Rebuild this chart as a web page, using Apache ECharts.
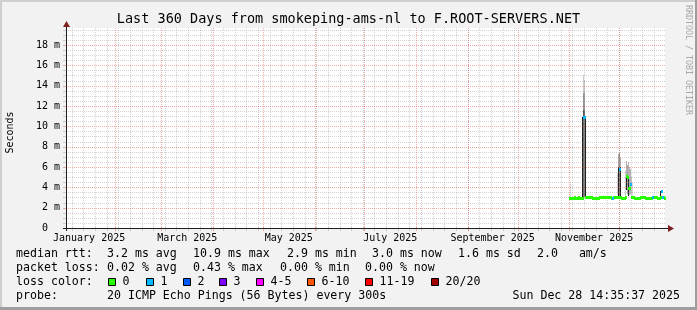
<!DOCTYPE html>
<html><head><meta charset="utf-8">
<script src="https://cdn.jsdelivr.net/npm/echarts@6/dist/echarts.min.js"></script>
<style>html,body{margin:0;padding:0;background:#f2f2f2}#c{width:697px;height:310px}</style>
</head><body><div id="c"></div>
<script>
// ---------------- data ----------------
const titleText = 'Last 360 Days from smokeping-ams-nl to F.ROOT-SERVERS.NET';
const yAxisTitle = 'Seconds';
const watermark = 'RRDTOOL / TOBI OETIKER';
const rangeStart = Date.UTC(2025, 0, 2, 14, 35, 37);
const rangeDays = 360;
const xLabelMonths = [0, 2, 4, 6, 8, 10];
const xLabels = ['January 2025', 'March 2025', 'May 2025', 'July 2025', 'September 2025', 'November 2025'];
const yTicks = [0, 2, 4, 6, 8, 10, 12, 14, 16, 18];
const yTickLabels = ['0  ', '2 m', '4 m', '6 m', '8 m', '10 m', '12 m', '14 m', '16 m', '18 m'];
const yMax = 19.67;
const sampleStartDay = 302.7;   // first sample, days after range start
const sampleStep = 0.6;         // days per sample
const medianMs = [
  2.9,2.9,2.9,2.9,2.9,3.0,2.9,2.9,2.9,3.0,2.9,2.9,2.9,2.9,
  10.9,10.9,
  3.0,3.0,3.0,3.0,3.0,3.0,3.0,2.9,
  2.9,2.9,2.9,2.9,2.9,2.9,3.0,3.0,3.0,
  3.0,3.0,3.0,3.0,3.0,3.0,3.0,3.0,3.0,2.9,
  2.9,
  3.0,3.0,3.0,3.0,3.0,3.0,
  5.8,
  3.0,2.9,2.9,2.9,2.9,3.0,
  5.1,5.0,3.9,3.9,4.3,
  3.0,3.0,3.0,2.9,2.9,2.9,2.9,2.9,2.9,3.0,3.0,
  3.0,3.0,3.0,2.9,2.9,2.9,2.9,2.9,2.9,2.9,3.0,
  3.0,3.0,3.0,3.0,2.9,2.9,2.9,3.0,
  3.6,
  3.0,3.0,2.9
];
const lossCount = medianMs.map(() => 0);
const lossSamples = [14, 15, 43, 50, 61, 83, 92, 93];
lossSamples.forEach(i => { lossCount[i] = 1; });
// smoke columns: sample index, low, high, ping density
const smokeIdx     = [1,   13,  14,  15,  16,  14,   14,   14,   15,   15,   15,   48,  49,  50,  51,  49,  50,  51,  56,  57,  57,  58,  59,  59,  60,  61,  62,  63,  91];
const smokeLo      = [3.0, 3.0, 3.0, 3.0, 3.0, 10.9, 11.6, 13.3, 10.9, 11.6, 13.3, 3.2, 3.0, 3.0, 3.0, 6.0, 5.8, 6.0, 3.1, 3.7, 5.2, 3.3, 3.1, 5.0, 3.2, 3.3, 3.0, 3.0, 3.0];
const smokeHi      = [4.4, 10.9,10.9,10.9,10.9,11.6, 13.3, 15.0, 11.6, 13.3, 14.6, 5.4, 6.0, 5.8, 6.0, 7.3, 7.4, 7.0, 5.6, 5.2, 6.6, 6.2, 5.0, 6.5, 6.0, 5.8, 5.0, 4.4, 3.6];
const smokeDensity = [0.15,0.9, 0.55,0.5, 0.88,0.65, 0.42, 0.2,  0.6,  0.38, 0.18, 0.18,0.88,0.5, 0.88,0.35,0.4, 0.3, 0.2, 0.9, 0.3, 0.35,0.85,0.28,0.3, 0.3, 0.2, 0.14,0.9];
const statsRtt = ['median rtt:', '3.2 ms avg', '10.9 ms max', '2.9 ms min', '3.0 ms now', '1.6 ms sd', '2.0   am/s'];
const statsLoss = ['packet loss:', '0.02 % avg', '0.43 % max', '0.00 % min', '0.00 % now'];
const lossTitle = 'loss color:';
const lossLabels = ['0', '1', '2', '3', '4-5', '6-10', '11-19', '20/20'];
const probeText = ['probe:', '20 ICMP Echo Pings (56 Bytes) every 300s'];
const stampText = 'Sun Dec 28 14:35:37 2025';

// ---------------- styling / layout ----------------
const lossPalette = ['#26ff00', '#00b8ff', '#0059ff', '#7e00ff', '#ff00ff', '#ff5500', '#ff0000', '#a10000'];
const MONO = 'DejaVu Sans Mono';
const minorCol = 'rgba(140,140,140,0.38)';
const majorCol = 'rgba(225,70,70,0.45)';
const DAY = 86400000;
const toDay = t => (t - rangeStart) / DAY;
function lossBucket(n) {
  if (n <= 3) return n;
  if (n <= 5) return 4;
  if (n <= 10) return 5;
  if (n <= 19) return 6;
  return 7;
}
const monthStarts = [];
for (let m = 0; m < 12; m++) {
  const d = toDay(Date.UTC(2025, m, 1));
  if (d > 0 && d < rangeDays) monthStarts.push(d);
}
const mondays = [];
for (let t = Date.UTC(2025, 0, 6); toDay(t) < rangeDays; t += 7 * DAY) mondays.push(toDay(t));
const labelDays = xLabelMonths.map(m => (toDay(Date.UTC(2025, m, 1)) + toDay(Date.UTC(2025, m + 1, 1))) / 2);
const majorH = yTicks.filter(v => v > 0);
const minorH = [];
for (let k = 1; k * 0.5 < yMax; k++) { const v = k * 0.5; if (yTicks.indexOf(v) < 0) minorH.push(v); }

function renderSmoke(params, api) {
  const d = api.value(0), lo = api.value(1), hi = api.value(2), den = api.value(3);
  const a = api.coord([d - sampleStep / 2, lo]), b = api.coord([d + sampleStep / 2, hi]);
  const x0 = Math.round(a[0]), x1 = Math.max(x0 + 1, Math.round(b[0]));
  const y0 = Math.round(b[1]), y1 = Math.round(a[1]);
  const g = Math.round(255 * (1 - den));
  return { type: 'rect', shape: { x: x0, y: y0, width: x1 - x0, height: y1 - y0 },
    style: { fill: 'rgb(' + g + ',' + g + ',' + g + ')' }, z2: Math.round(den * 10) };
}
function renderV(params, api) {
  const d = api.value(0), major = api.value(1);
  const p0 = api.coord([d, 0]), p1 = api.coord([d, yMax]);
  const x = Math.round(p0[0]) + 0.5;
  const col = major ? majorCol : minorCol;
  return { type: 'group', children: [
    { type: 'line', shape: { x1: x, y1: Math.round(p1[1]), x2: x, y2: Math.round(p0[1]) }, style: { stroke: col, lineWidth: 1, lineDash: [1, 1] } },
    { type: 'line', shape: { x1: x, y1: Math.round(p0[1]) - 1, x2: x, y2: Math.round(p0[1]) + 3 }, style: { stroke: col, lineWidth: 1 } }
  ] };
}
function renderH(params, api) {
  const v = api.value(1), major = api.value(2);
  const p0 = api.coord([0, v]), p1 = api.coord([rangeDays, v]);
  const y = Math.round(p0[1]) + 0.5;
  const col = major ? majorCol : minorCol;
  return { type: 'group', children: [
    { type: 'line', shape: { x1: Math.round(p0[0]), y1: y, x2: Math.round(p1[0]), y2: y }, style: { stroke: col, lineWidth: 1, lineDash: [1, 1] } },
    { type: 'line', shape: { x1: Math.round(p0[0]) - 3, y1: y, x2: Math.round(p0[0]) + 1, y2: y }, style: { stroke: col, lineWidth: 1 } }
  ] };
}
function renderMedian(params, api) {
  const d = api.value(0), v = api.value(1), loss = api.value(2);
  const a = api.coord([d - sampleStep / 2, v]), b = api.coord([d + sampleStep / 2, v]);
  let x0 = Math.round(a[0]), x1 = Math.round(b[0]);
  if (x1 - x0 < 2) x1 = x0 + 2;
  const y = Math.round(a[1] - 1.5);
  return { type: 'rect', shape: { x: x0, y: y, width: x1 - x0, height: 3 },
    style: { fill: lossPalette[lossBucket(loss)] }, z2: loss > 0 ? 10 : 1 };
}

// legend graphics
const gfx = [];
const txt = (text, x, y, size, opts) => Object.assign({ type: 'text', x: x, y: y, z: 20,
  style: Object.assign({ text: text, fontFamily: MONO, fontSize: size, fill: '#000', align: 'left', verticalAlign: 'middle' }, (opts && opts.style) || {}) },
  opts && opts.rotation !== undefined ? { rotation: opts.rotation } : {});
gfx.push({ type: 'rect', z: 30, shape: { x: 0, y: 0, width: 697, height: 2 }, style: { fill: '#cfcfcf' } });
gfx.push({ type: 'rect', z: 30, shape: { x: 0, y: 0, width: 2, height: 310 }, style: { fill: '#cfcfcf' } });
gfx.push({ type: 'rect', z: 30, shape: { x: 0, y: 307, width: 697, height: 3 }, style: { fill: '#9e9e9e' } });
gfx.push({ type: 'rect', z: 30, shape: { x: 695, y: 0, width: 2, height: 310 }, style: { fill: '#9e9e9e' } });
gfx.push(txt(titleText, 348.5, 19.3, 13.5, { style: { align: 'center' } }));
gfx.push(txt(yAxisTitle, 10, 132.5, 10, { rotation: Math.PI / 2, style: { align: 'center' } }));
gfx.push(txt(watermark, 688, 60, 8.3, { rotation: -Math.PI / 2, style: { align: 'center', fill: '#a8a8a8' } }));
// axes lines + arrows
gfx.push({ type: 'line', z: 25, shape: { x1: 63, y1: 228.5, x2: 669, y2: 228.5 }, style: { stroke: '#1f1f1f', lineWidth: 1 } });
gfx.push({ type: 'line', z: 25, shape: { x1: 66.5, y1: 231, x2: 66.5, y2: 26 }, style: { stroke: '#1f1f1f', lineWidth: 1 } });
gfx.push({ type: 'polygon', z: 26, shape: { points: [[668, 225], [674, 228.5], [668, 232]] }, style: { fill: '#801f1f' } });
gfx.push({ type: 'polygon', z: 26, shape: { points: [[63, 27], [66.5, 21], [70, 27]] }, style: { fill: '#801f1f' } });
const LF = 11.6;
const rttX = [16, 107, 193, 287, 372, 458, 537];
statsRtt.forEach((s, k) => gfx.push(txt(s, rttX[k], 254.3, LF)));
const lossX = [16, 107, 193, 280, 365];
statsLoss.forEach((s, k) => gfx.push(txt(s, lossX[k], 268.3, LF)));
gfx.push(txt(lossTitle, 16, 282.3, LF));
const sqX = [108, 146, 183, 219, 256, 307, 365, 431];
lossLabels.forEach((s, k) => {
  gfx.push({ type: 'rect', z: 20, shape: { x: sqX[k] + 0.5, y: 278.5, width: 7, height: 7 }, style: { fill: lossPalette[k], stroke: '#000', lineWidth: 1 } });
  gfx.push(txt(s, sqX[k] + 14.5, 282.3, LF));
});
gfx.push(txt(probeText[0], 16, 296, LF));
gfx.push(txt(probeText[1], 107, 296, LF));
gfx.push(txt(stampText, 680, 296, LF, { style: { align: 'right' } }));

const chart = echarts.init(document.getElementById('c'), null, { renderer: 'canvas', width: 697, height: 310 });
chart.setOption({
  animation: false,
  backgroundColor: '#f2f2f2',
  grid: { left: 66, top: 28, width: 599, height: 200, show: true, backgroundColor: '#ffffff', borderWidth: 0 },
  xAxis: {
    type: 'value', min: 0, max: rangeDays,
    axisLine: { show: false }, axisTick: { show: false }, splitLine: { show: false },
    axisLabel: {
      customValues: labelDays, margin: 5, fontFamily: MONO, fontSize: 10, color: '#000',
      formatter: v => { let best = 0; labelDays.forEach((d, k) => { if (Math.abs(d - v) < Math.abs(labelDays[best] - v)) best = k; }); return xLabels[best]; }
    }
  },
  yAxis: {
    type: 'value', min: 0, max: yMax,
    axisLine: { show: false }, axisTick: { show: false }, splitLine: { show: false },
    axisLabel: {
      customValues: yTicks, margin: 6, fontFamily: MONO, fontSize: 10, color: '#000',
      formatter: v => yTickLabels[yTicks.indexOf(Math.round(v))]
    }
  },
  series: [
    { type: 'custom', name: 'smoke', z: 2, silent: true, renderItem: renderSmoke,
      data: smokeIdx.map((k, j) => [sampleStartDay + k * sampleStep, smokeLo[j], smokeHi[j], smokeDensity[j]]) },
    { type: 'custom', name: 'vgrid', z: 3, silent: true, renderItem: renderV,
      data: mondays.map(d => [d, 0]).concat(monthStarts.map(d => [d, 1])) },
    { type: 'custom', name: 'hgrid', z: 3, silent: true, renderItem: renderH,
      data: minorH.map(v => [0, v, 0]).concat(majorH.map(v => [0, v, 1])) },
    { type: 'custom', name: 'median', z: 4, silent: true, renderItem: renderMedian,
      data: medianMs.map((v, i) => [sampleStartDay + i * sampleStep, v, lossCount[i]]) }
  ],
  graphic: { elements: gfx }
});
</script></body></html>
